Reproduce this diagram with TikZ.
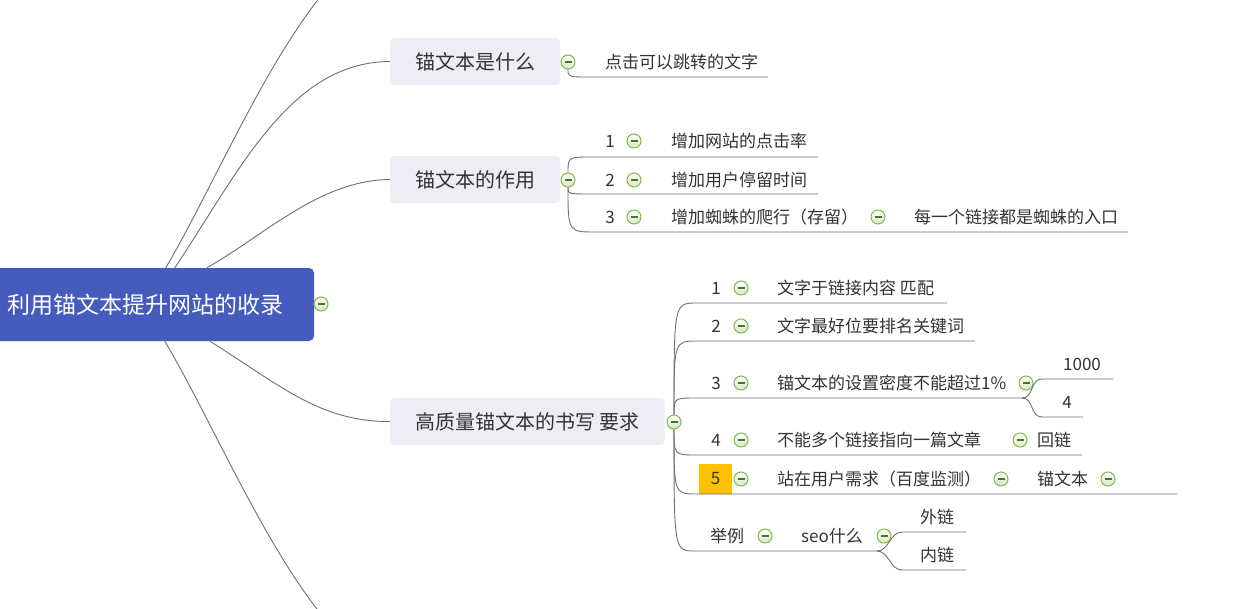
\documentclass[tikz,border=0pt]{standalone}
\usepackage{fontspec}
\newfontfamily\cjk{Noto Sans CJK SC}
\usepackage{xcolor}
\usetikzlibrary{positioning,calc}

\definecolor{rootblue}{RGB}{69,92,189}
\definecolor{topicgray}{RGB}{237,237,243}
\definecolor{ink}{RGB}{51,51,51}
\definecolor{linegray}{RGB}{112,112,112}
\definecolor{foldgreen}{RGB}{128,186,72}
\definecolor{foldfill}{RGB}{214,232,198}
\definecolor{amber}{RGB}{255,192,0}

\begin{document}
\begin{tikzpicture}[
    x=1pt, y=-1pt,
    root/.style={
      rectangle,
      rounded corners=5pt,
      fill=rootblue,
      text=white,
      minimum width=336pt,
      minimum height=73pt,
      inner sep=0pt,
      font=\cjk\fontsize{23}{28}\selectfont
    },
    topic/.style={
      rectangle,
      rounded corners=4pt,
      fill=topicgray,
      text=ink,
      anchor=west,
      minimum height=47pt,
      inner xsep=25pt,
      inner ysep=0pt,
      font=\cjk\fontsize{20}{24}\selectfont
    },
    leaf/.style={anchor=west, inner sep=0pt, text=ink, font=\cjk\fontsize{17}{20}\selectfont},
    num/.style={inner sep=0pt, text=ink, font=\cjk\fontsize{17}{20}\selectfont},
    fold/.style={
      circle,
      minimum size=14pt,
      inner sep=0pt,
      draw=foldgreen,
      line width=1pt,
      top color=white,
      bottom color=foldfill,
      path picture={\draw[foldgreen!60!black, line width=1.2pt]
        ([xshift=3.5pt]path picture bounding box.west) --
        ([xshift=-3.5pt]path picture bounding box.east);}
    },
    link/.style={draw=linegray, line width=0.9pt}
  ]
    \fill[white] (0,0) rectangle (1253,608);
    \clip (0,0) rectangle (1253,608);

    % central topic
    \node[root] (root) at (146,304.5) {利用锚文本提升网站的收录};
    \node[fold] (froot) at (321,304) {};
    \coordinate (up) at (420,-70);
    \coordinate (down) at (420,680);

    \node[topic] (t1) at (390,61.5) {锚文本是什么};
    \node[topic] (t2) at (390,179.5) {锚文本的作用};
    \node[topic] (t3) at (390,421.5) {高质量锚文本的书写 要求};
    \node[fold] (f1) at (568,62) {};
    \node[fold] (f2) at (568,180) {};
    \node[fold] (f3) at (674,422) {};

    \draw[link] ([xshift=188pt]root.north west) .. controls (235,150) and (315,-65) .. (up);
    \draw[link] ([xshift=197pt]root.north west) .. controls (240,170) and (290,62) .. (t1.west);
    \draw[link] ([xshift=229pt]root.north west) .. controls (265,235) and (320,180) .. (t2.west);
    \draw[link] ([xshift=232pt]root.south west) .. controls (280,385) and (320,422) .. (t3.west);
    \draw[link] ([xshift=187pt]root.south west) .. controls (235,460) and (315,675) .. (down);

    % 锚文本是什么
    \node[leaf] (a1) at (605,62) {点击可以跳转的文字};
    \coordinate (a1s) at (590,77);
    \coordinate (a1e) at (768,77);
    \draw[link] (f1) .. controls (f1 |- a1s) .. (a1s) -- (a1e);

    % 锚文本的作用
    \node[num] (n21) at (610,141) {1};
    \node[fold] (f21) at (634,141) {};
    \node[leaf] (b21) at (671,141) {增加网站的点击率};
    \coordinate (b21s) at (592,157);
    \coordinate (b21e) at (818,157);
    \draw[link] (f2) .. controls (f2 |- b21s) .. (b21s) -- (b21e);

    \node[num] (n22) at (610,180) {2};
    \node[fold] (f22) at (634,180) {};
    \node[leaf] (b22) at (671,180) {增加用户停留时间};
    \coordinate (b22s) at (594,194);
    \coordinate (b22e) at (818,194);
    \draw[link] (f2) .. controls (f2 |- b22s) .. (b22s) -- (b22e);

    \node[num] (n23) at (610,217) {3};
    \node[fold] (f23) at (634,217) {};
    \node[leaf] (b23) at (671,217) {增加蜘蛛的爬行（存留）};
    \node[fold] (f23x) at (878,217) {};
    \node[leaf] (c23) at (914,217) {每一个链接都是蜘蛛的入口};
    \coordinate (b23s) at (596,232);
    \coordinate (b23e) at (1128,232);
    \draw[link] (f2) .. controls (f2 |- b23s) .. (b23s) -- (b23e);

    % 高质量锚文本的书写 要求
    \node[num] (n31) at (716,288) {1};
    \node[fold] (f31) at (741,288) {};
    \node[leaf] (b31) at (777,288) {文字于链接内容 匹配};
    \coordinate (b31s) at (697,303);
    \coordinate (b31e) at (947,303);
    \draw[link] (f3) .. controls (f3 |- b31s) .. (b31s) -- (b31e);

    \node[num] (n32) at (716,326) {2};
    \node[fold] (f32) at (741,326) {};
    \node[leaf] (b32) at (777,326) {文字最好位要排名关键词};
    \coordinate (b32s) at (697,341);
    \coordinate (b32e) at (975,341);
    \draw[link] (f3) .. controls (f3 |- b32s) .. (b32s) -- (b32e);

    \node[num] (n33) at (716,383) {3};
    \node[fold] (f33) at (741,383) {};
    \node[leaf] (b33) at (777,383) {锚文本的设置密度不能超过1\%};
    \node[fold] (f33x) at (1026,383) {};
    \coordinate (b33s) at (697,398);
    \coordinate (b33e) at (1022,398);
    \draw[link] (f3) .. controls (f3 |- b33s) .. (b33s) -- (b33e);
    \node[num] (d331) at (1082,364) {1000};
    \coordinate (d331s) at (1042,379);
    \coordinate (d331e) at (1113,379);
    \draw[link] (b33e) .. controls +(12,0) and +(-12,0) .. (d331s) -- (d331e);
    \node[num] (d332) at (1067,402) {4};
    \coordinate (d332s) at (1042,417);
    \coordinate (d332e) at (1083,417);
    \draw[link] (b33e) .. controls +(12,0) and +(-12,0) .. (d332s) -- (d332e);

    \node[num] (n34) at (716,440) {4};
    \node[fold] (f34) at (741,440) {};
    \node[leaf] (b34) at (777,440) {不能多个链接指向一篇文章};
    \node[fold] (f34x) at (1020,440) {};
    \node[leaf] (c34) at (1037,440) {回链};
    \coordinate (b34s) at (697,455);
    \coordinate (b34e) at (1082,455);
    \draw[link] (f3) .. controls (f3 |- b34s) .. (b34s) -- (b34e);

    \node[num, fill=amber, minimum width=33pt, minimum height=30pt] (n35) at (715.5,479) {5};
    \node[fold] (f35) at (741,479) {};
    \node[leaf] (b35) at (777,479) {站在用户需求（百度监测）};
    \node[fold] (f35x) at (1001,479) {};
    \node[leaf] (c35) at (1037,479) {锚文本};
    \node[fold] (f35y) at (1108,479) {};
    \coordinate (b35s) at (697,494);
    \coordinate (b35e) at (1177,494);
    \draw[link] (f3) .. controls (f3 |- b35s) .. (b35s) -- (b35e);

    \node[leaf] (b36) at (710,536) {举例};
    \node[fold] (f36) at (765,536) {};
    \node[leaf] (c36) at (801,536) {seo什么};
    \node[fold] (f36x) at (884,536) {};
    \coordinate (b36s) at (695,551);
    \coordinate (b36e) at (877,551);
    \draw[link] (f3) .. controls (f3 |- b36s) .. (b36s) -- (b36e);
    \node[leaf] (d361) at (920,517) {外链};
    \coordinate (d361s) at (902,532);
    \coordinate (d361e) at (966,532);
    \draw[link] (b36e) .. controls +(12,0) and +(-12,0) .. (d361s) -- (d361e);
    \node[leaf] (d362) at (920,555) {内链};
    \coordinate (d362s) at (902,570);
    \coordinate (d362e) at (966,570);
    \draw[link] (b36e) .. controls +(12,0) and +(-12,0) .. (d362s) -- (d362e);
  \end{tikzpicture}
\end{document}
